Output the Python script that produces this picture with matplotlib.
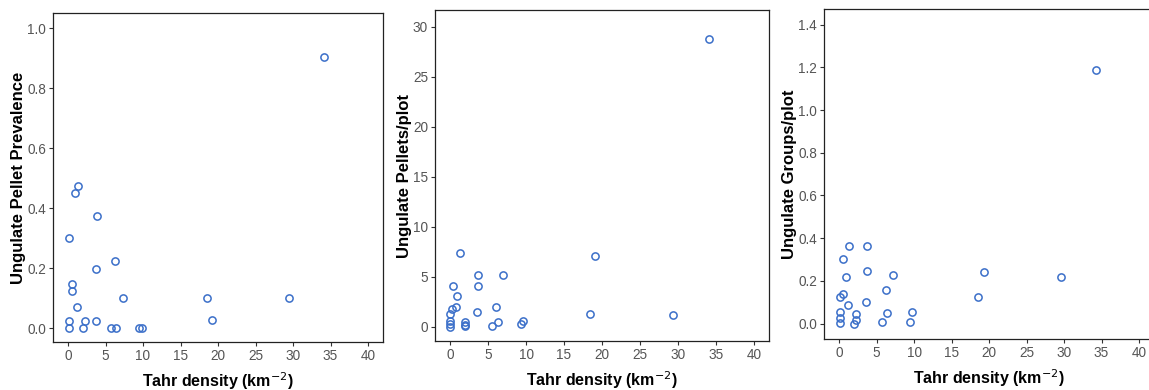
import matplotlib
matplotlib.use("Agg")
import matplotlib.pyplot as plt
from matplotlib.ticker import FormatStrFormatter

plt.rcParams["font.family"] = ["Liberation Sans", "DejaVu Sans"]

# panel A: pellet prevalence
prev_x = [34.1, 1.38, 0.89, 3.82, 0.13, 6.27, 3.73, 0.49, 0.49, 1.16, 7.29, 18.5,
          29.5, 19.2, 0.18, 0.13, 2.27, 2.04, 3.69, 5.69, 6.44, 9.47, 9.87]
prev_y = [0.906, 0.474, 0.45, 0.376, 0.30, 0.224, 0.199, 0.148, 0.124, 0.073, 0.101, 0.102,
          0.103, 0.027, 0.024, 0.0, 0.024, 0.0, 0.026, 0.0, 0.0, 0.0, 0.0]

# panel B: pellets per plot
pel_x = [34.07, 1.23, 19.08, 3.6, 7.0, 0.31, 3.6, 0.92, 0.75, 0.22, 0.0, 6.0, 3.5,
         18.4, 29.4, 0.0, 0.0, 0.0, 2.0, 1.9, 2.0, 5.5, 6.3, 9.3, 9.6]
pel_y = [28.77, 7.4, 7.07, 5.2, 5.13, 4.07, 4.07, 3.1, 1.97, 1.8, 1.3, 1.93, 1.5,
         1.23, 1.2, 0.57, 0.27, 0.0, 0.43, 0.17, 0.05, 0.03, 0.47, 0.3, 0.57]

# panel C: groups per plot
grp_x = [34.3, 1.33, 3.78, 0.49, 0.93, 3.69, 7.24, 19.3, 29.6, 18.5, 6.27, 0.53, 0.18,
         1.16, 3.64, 9.73, 6.4, 2.22, 0.18, 0.18, 2.2, 2.04, 5.69, 9.42, 0.1]
grp_y = [1.188, 0.365, 0.365, 0.304, 0.22, 0.248, 0.228, 0.242, 0.219, 0.126, 0.158, 0.137, 0.123,
         0.087, 0.101, 0.056, 0.048, 0.047, 0.055, 0.027, 0.016, 0.0, 0.006, 0.006, 0.003]

x_ticks = [0, 5, 10, 15, 20, 25, 30, 35, 40]

W, H = 1149, 390
fig = plt.figure(figsize=(W / 100, H / 100), dpi=100)


def panel(box, xs, ys, ylim, yticks, ylabel, fmt):
    l, t, r, b = box
    ax = fig.add_axes([l / W, 1 - b / H, (r - l) / W, (b - t) / H])
    ax.plot(xs, ys, "o", mfc="none", mec="#3b6fc9", mew=1.1, ms=5.2, ls="none")
    ax.set_xlim(-2.0, 42.0)
    ax.set_ylim(*ylim)
    ax.set_xticks(x_ticks)
    ax.set_yticks(yticks)
    ax.yaxis.set_major_formatter(FormatStrFormatter(fmt))
    ax.tick_params(direction="out", length=3, width=0.8, colors="#333333",
                   labelcolor="#555555", labelsize=9.8, pad=2)
    for s in ax.spines.values():
        s.set_linewidth(0.9)
        s.set_color("#222222")
    ax.set_xlabel("Tahr density (km$^{-2}$)", fontsize=11.5, fontweight="bold", labelpad=5)
    ax.set_ylabel(ylabel, fontsize=12, fontweight="bold", labelpad=1)
    return ax


panel((53, 13, 383, 342), prev_x, prev_y, (-0.045, 1.051),
      [0.0, 0.2, 0.4, 0.6, 0.8, 1.0], "Ungulate Pellet Prevalence", "%.1f")
panel((435, 10, 769, 341), pel_x, pel_y, (-1.45, 31.65),
      [0, 5, 10, 15, 20, 25, 30], "Ungulate Pellets/plot", "%d")
panel((824, 9, 1154, 339), grp_x, grp_y, (-0.072, 1.473),
      [0.0, 0.2, 0.4, 0.6, 0.8, 1.0, 1.2, 1.4], "Ungulate Groups/plot", "%.1f")

fig.savefig("out.png", dpi=100)
